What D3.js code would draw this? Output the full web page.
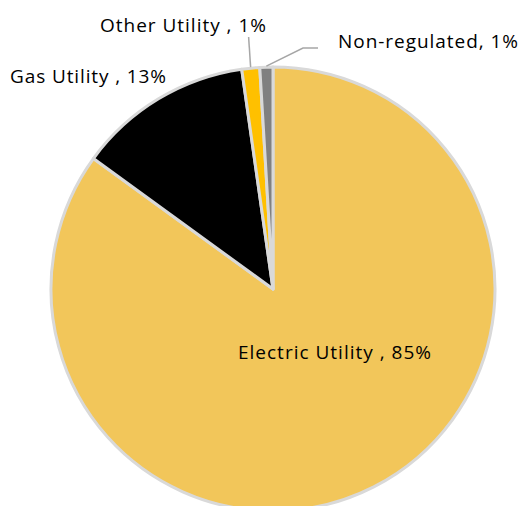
<!DOCTYPE html>
<html>
<head>
<meta charset="utf-8">
<script src="https://cdn.jsdelivr.net/npm/d3@7"></script>
<style>
  html, body { margin: 0; padding: 0; background: #fff; }
  svg { display: block; }
  text { font-family: "Open Sans", "Noto Sans", sans-serif; fill: #000; }
</style>
</head>
<body>
<svg id="chart" width="525" height="506"></svg>
<script>
const categories = ["Electric Utility ", "Gas Utility ", "Other Utility ", "Non-regulated"];
const values = [85.0, 12.75, 1.3, 0.95];
const labels = ["Electric Utility , 85%", "Gas Utility , 13%", "Other Utility , 1%", "Non-regulated, 1%"];
const colors = ["#F2C65A", "#000000", "#FFC000", "#808080"];

const W = 525, H = 506;
const cx = 273, cy = 289, R = 222;
const svg = d3.select("#chart");
const g = svg.append("g").attr("transform", `translate(${cx},${cy})`);

const data = categories.map((c, i) => ({ name: c, value: values[i], label: labels[i], color: colors[i] }));
const pie = d3.pie().value(d => d.value).sort(null);
const arcs = pie(data);
const arc = d3.arc().innerRadius(0).outerRadius(R);

g.selectAll("path.slice").data(arcs).join("path")
  .attr("class", "slice")
  .attr("d", arc)
  .attr("fill", d => d.data.color)
  .attr("stroke", "#D9D9D9")
  .attr("stroke-width", 3)
  .attr("stroke-linejoin", "round");

function pt(angle, r) { return [r * Math.sin(angle), -r * Math.cos(angle)]; }
const mid = d => (d.startAngle + d.endAngle) / 2;

const leaderColor = "#A6A6A6";
{
  const a = arcs[2];
  const p0 = pt(mid(a), R + 1);
  const p1 = [p0[0] - 2, -252];
  g.append("polyline")
    .attr("points", [p0, p1].map(p => p.join(",")).join(" "))
    .attr("fill", "none").attr("stroke", leaderColor).attr("stroke-width", 1.5);
}
{
  const a = arcs[3];
  const p0 = pt(mid(a), R + 1);
  const p1 = [30, -241];
  const p2 = [45, -241];
  g.append("polyline")
    .attr("points", [p0, p1, p2].map(p => p.join(",")).join(" "))
    .attr("fill", "none").attr("stroke", leaderColor).attr("stroke-width", 1.5);
}

const labelPos = [
  { x: 238, y: 359, w: 193 },
  { x: 10, y: 83, w: 156 },
  { x: 100, y: 32, w: 166 },
  { x: 338, y: 48, w: 180 }
];
const baseSize = 17.5;
const texts = svg.selectAll("text.lbl").data(arcs).join("text")
  .attr("class", "lbl")
  .attr("x", (d, i) => labelPos[i].x)
  .attr("y", (d, i) => labelPos[i].y)
  .attr("font-size", baseSize)
  .text(d => d.data.label);
texts.each(function(d, i) {
  const target = labelPos[i].w;
  const w0 = this.getComputedTextLength();
  const size = Math.min(19, baseSize * target / w0);
  const sel = d3.select(this).attr("font-size", size);
  const w1 = this.getComputedTextLength();
  if (Math.abs(w1 - target) > 2) {
    sel.attr("textLength", target).attr("lengthAdjust", "spacing");
  }
});
</script>
</body>
</html>
